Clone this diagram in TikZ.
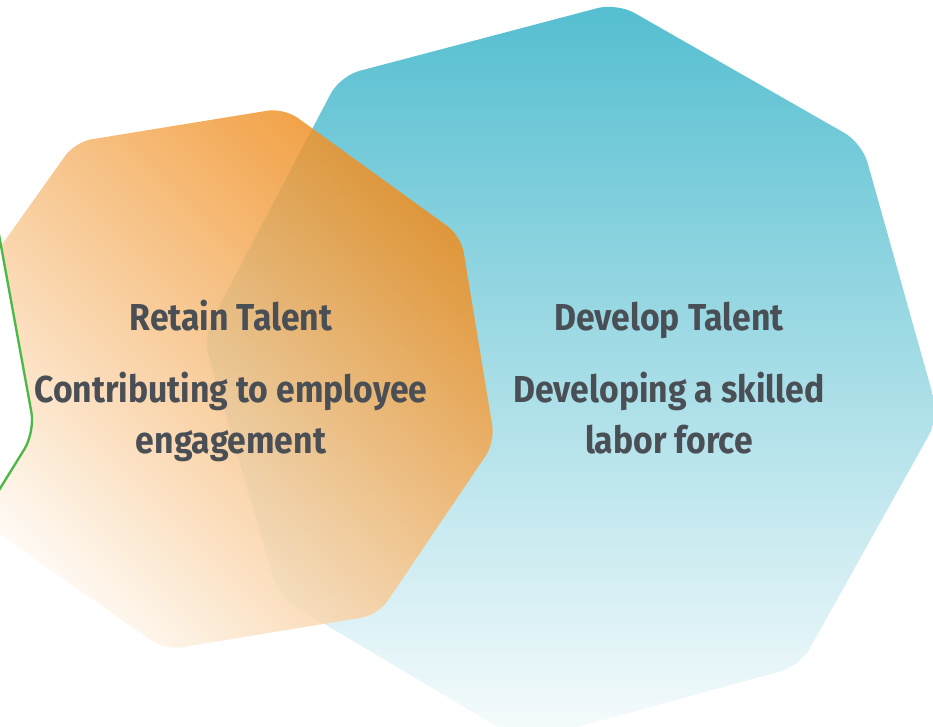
\documentclass[tikz,border=0pt]{standalone}
\usepackage{fontspec}
\newfontfamily\labelfont[FakeStretch=0.9]{Fira Sans}
\usetikzlibrary{positioning}

\definecolor{tealtop}{RGB}{84,190,208}
\definecolor{tealbottom}{RGB}{248,252,253}
\definecolor{orangetop}{RGB}{239,140,28}
\definecolor{orangebottom}{RGB}{255,250,244}
\definecolor{textgrey}{RGB}{74,79,86}
\definecolor{greenline}{RGB}{76,184,72}

\tikzset{
  teal shape/.style={top color=tealtop, bottom color=tealbottom,
      rounded corners=6mm},
  orange shape/.style={top color=orangetop, bottom color=orangebottom,
      shading angle=-45, fill opacity=0.85, rounded corners=5mm},
  green shape/.style={draw=greenline, fill=white, line width=2pt,
      rounded corners=6mm},
  title text/.style={font=\labelfont\bfseries\fontsize{32}{42.7}\selectfont,
      text=textgrey, anchor=base, inner sep=0pt},
  body text/.style={title text, align=center},
}

\begin{document}
\begin{tikzpicture}[x=0.3mm, y=-0.3mm]
\useasboundingbox (0,0) rectangle (933,727);
\clip (0,0) rectangle (933,727);

% develop shape
\path[teal shape] (617,3) -- (862,143) -- (939,417) -- (800,666)
    -- (523,742) -- (279,597) -- (203,337) -- (340,76) -- cycle;

% retain shape
\path[orange shape] (284,108) -- (461,236) -- (495,442) -- (378,615)
    -- (165,650) -- (-14,525) -- (-48,315) -- (75,142) -- cycle;

% third shape, cut by the edge
\path[green shape] (-15,158) -- (35,432) -- (-30,537)
    -- (-200,537) -- (-200,158) -- cycle;

% labels (base of a two-line node is its last line)
\node[title text] (retain title) at (231,330) {Retain Talent};
\node[body text] (retain text) at (231,453)
    {Contributing to employee\\engagement};

\node[title text] (develop title) at (669,330) {Develop Talent};
\node[body text] (develop text) at (669,453)
    {Developing a skilled\\labor force};

\end{tikzpicture}
\end{document}
